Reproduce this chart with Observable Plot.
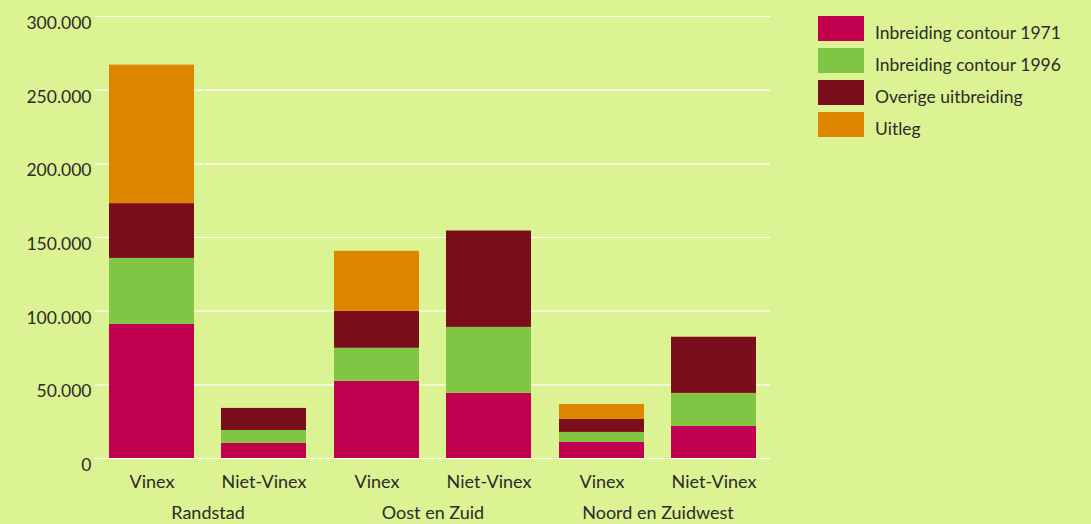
<!DOCTYPE html>
<html>
<head>
<meta charset="utf-8">
<script src="https://cdn.jsdelivr.net/npm/d3@7"></script>
<script src="https://cdn.jsdelivr.net/npm/@observablehq/plot@0.6"></script>
<style>
  html, body { margin: 0; padding: 0; background: #dcf393; }
  body { width: 1091px; height: 524px; position: relative; overflow: hidden;
         font-family: Lato, "Open Sans", sans-serif; }
  #chart { position: absolute; left: 0; top: 0; }
  #legend { position: absolute; left: 818px; top: 20px; }
  #legend [class$="-swatch"] { margin-bottom: 7px !important; padding-bottom: 0 !important;
      font-size: 17.5px; color: #2b2b2b; overflow: visible !important; }
  #legend [class$="-swatch"] > svg { margin-right: 11px !important; position: relative; top: -4px; }
</style>
</head>
<body>
<div id="chart"></div>
<div id="legend"></div>
<script>
const regions = ["Randstad", "Oost en Zuid", "Noord en Zuidwest"];
const types = ["Vinex", "Niet-Vinex"];
const series = ["Inbreiding contour 1971", "Inbreiding contour 1996", "Overige uitbreiding", "Uitleg"];
const colors = ["#c3004f", "#80c644", "#7a0e1b", "#de8600"];
const yTicks = [0, 50000, 100000, 150000, 200000, 250000, 300000];

// values per series, in order: Randstad Vinex, Randstad Niet-Vinex, Oost Vinex, Oost Niet-Vinex, NZW Vinex, NZW Niet-Vinex
const contour1971 = [91000, 10200, 52400, 44200, 10900, 21800];
const contour1996 = [44800, 8800, 22400, 44800, 6800, 22400];
const overige     = [37200, 15000, 25000, 65400, 8800, 38100];
const uitleg      = [94000, 0, 40800, 0, 10200, 0];

const seriesValues = [contour1971, contour1996, overige, uitleg];
const data = [];
seriesValues.forEach((vals, si) => {
  vals.forEach((v, i) => {
    data.push({
      region: regions[Math.floor(i / 2)],
      type: types[i % 2],
      series: series[si],
      value: v
    });
  });
});

const nl = d3.formatLocale({decimal: ",", thousands: ".", grouping: [3], currency: ["€", ""]});
const fmt = nl.format(",d");

const chart = Plot.plot({
  width: 800,
  height: 524,
  marginLeft: 95,
  marginRight: 30,
  marginTop: 16,
  marginBottom: 66,
  style: {background: "transparent", fontFamily: "Lato, 'Open Sans', sans-serif", fontSize: "18px", color: "#2b2b2b"},
  fx: {domain: regions, padding: 0, label: null},
  x: {domain: types, paddingInner: 0.245, paddingOuter: 0.1225, label: null},
  y: {domain: [0, 300000], label: null},
  color: {domain: series, range: colors},
  marks: [
    Plot.gridY(yTicks, {stroke: "#ffffff", strokeOpacity: 1, strokeWidth: 1.2}),
    Plot.barY(data, {fx: "region", x: "type", y: "value", fill: "series", order: series}),
    Plot.axisY(yTicks, {tickSize: 0, tickPadding: 4, dy: 7, tickFormat: fmt, label: null, fontSize: 17.5}),
    Plot.axisX({tickSize: 0, tickPadding: 17, label: null, fontSize: 18}),
    Plot.axisFx({anchor: "bottom", tickSize: 0, tickPadding: 48, label: null, fontSize: 18})
  ]
});
document.getElementById("chart").appendChild(chart);

const legend = Plot.legend({
  color: {domain: series, range: colors},
  legend: "swatches",
  columns: 1,
  swatchWidth: 46,
  swatchHeight: 25,
  style: {background: "transparent", fontFamily: "Lato, 'Open Sans', sans-serif", fontSize: "17.5px", color: "#2b2b2b"}
});
document.getElementById("legend").appendChild(legend);
</script>
</body>
</html>
